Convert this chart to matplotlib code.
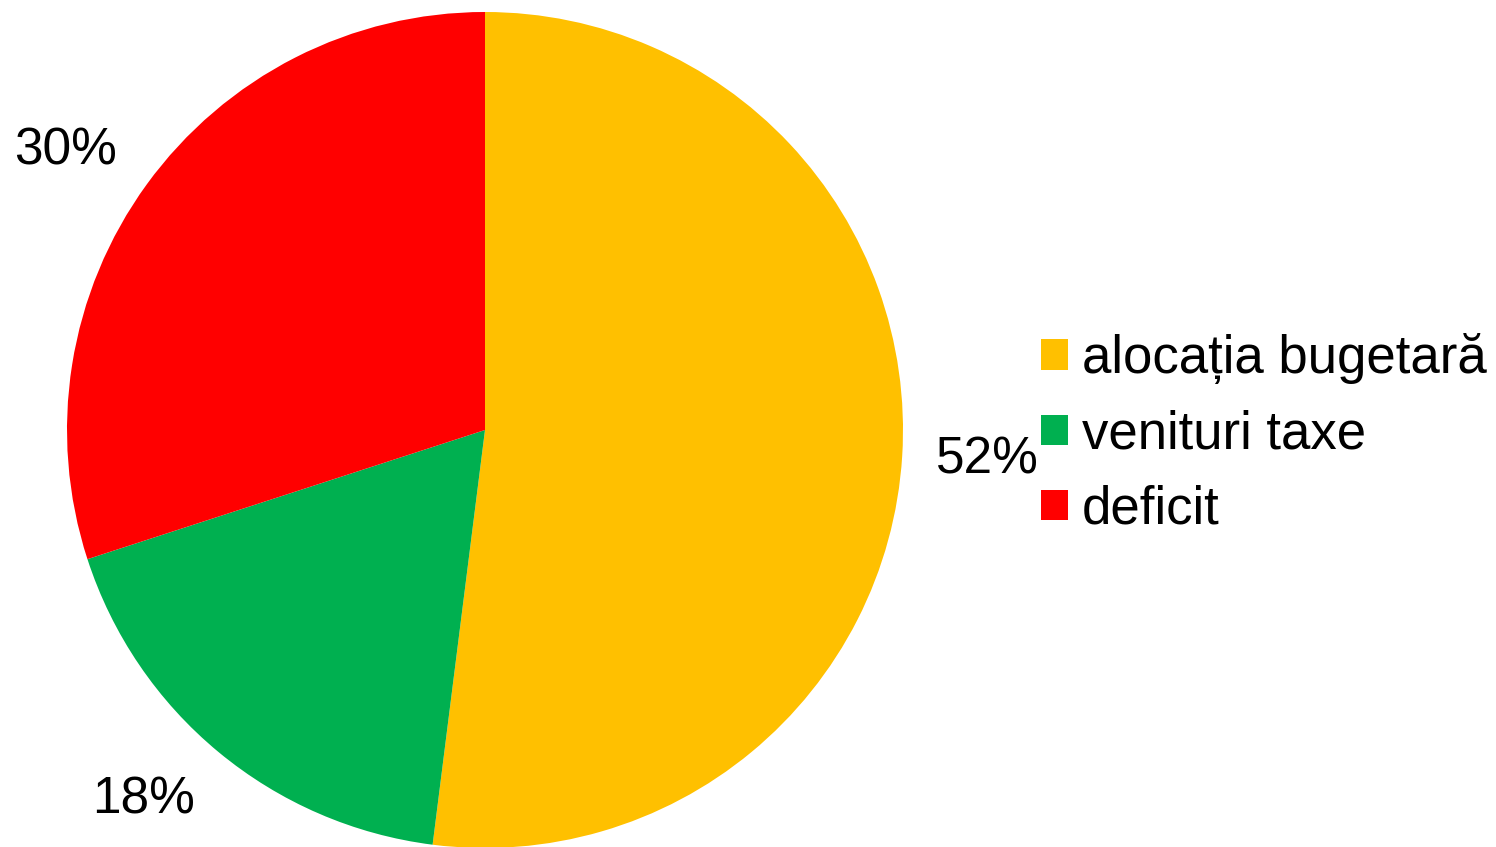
import matplotlib
matplotlib.use("Agg")
import matplotlib.pyplot as plt
import numpy as np

plt.rcParams['font.family'] = ['Liberation Sans', 'DejaVu Sans']

categories = ["alocația bugetară", "venituri taxe", "deficit"]
values = [52, 18, 30]
colors = ["#FFC000", "#00B050", "#FF0000"]
label_angle_shift = [0.2, -3.1, 2.3]   # degrees, Excel-like label placement

W, H = 1496, 847
CX, CY, R = 485, H - 430, 418
fig = plt.figure(figsize=(W / 100, H / 100), dpi=100)
ax = fig.add_axes([0, 0, 1, 1])

wedges, texts, autotexts = ax.pie(
    values, colors=colors, startangle=90, counterclock=False,
    center=(CX, CY), radius=R, frame=True,
    autopct=lambda p: f"{p:.0f}%", pctdistance=1.205,
    textprops=dict(fontsize=37, color='black'),
    wedgeprops=dict(linewidth=0))
ax.set_xlim(0, W)
ax.set_ylim(0, H)
ax.set_aspect('equal')
ax.axis('off')

for w, t, s in zip(wedges, autotexts, label_angle_shift):
    mid = np.deg2rad((w.theta1 + w.theta2) / 2 + s)
    t.set_position((CX + 1.205 * R * np.cos(mid), CY + 1.205 * R * np.sin(mid)))

leg = ax.legend(wedges, categories, loc='center left',
                bbox_to_anchor=(1041, H - 434), bbox_transform=ax.transData,
                frameon=False, fontsize=38, borderpad=0, borderaxespad=0,
                handlelength=0.51, handleheight=0.51, handletextpad=0.27,
                labelspacing=0.48)

fig.savefig("out.png", dpi=100)
